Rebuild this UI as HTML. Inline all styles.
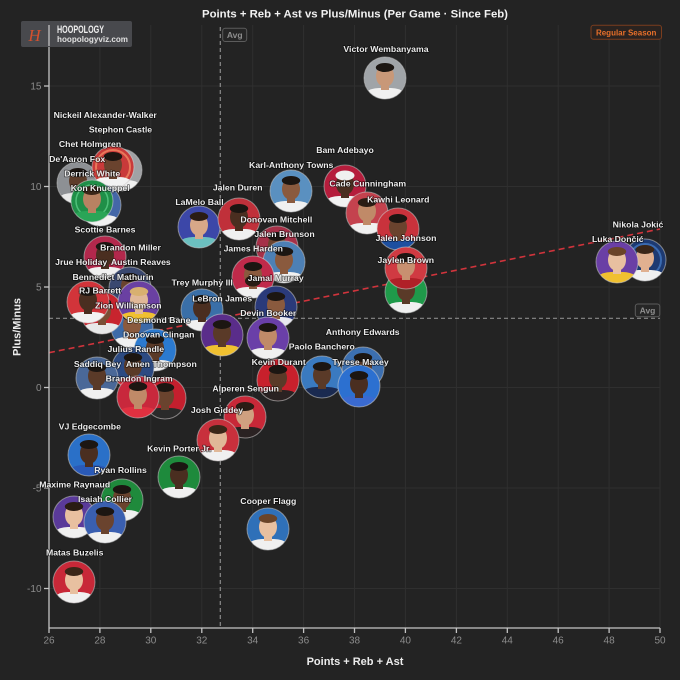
<!DOCTYPE html>
<html><head><meta charset="utf-8"><style>
html,body{margin:0;padding:0;background:#232323;}
svg{display:block;}
.lb{font-family:"Liberation Sans",sans-serif;font-weight:bold;font-size:8.7px;fill:#ececec;text-anchor:middle;paint-order:stroke;stroke:rgba(0,0,0,0.55);stroke-width:1.6px;stroke-linejoin:round;}
.tk{font-family:"Liberation Sans",sans-serif;font-size:10px;fill:#8c8c8c;}
</style></head><body>
<svg width="680" height="680" viewBox="0 0 680 680" xmlns="http://www.w3.org/2000/svg">
<defs><clipPath id="c"><circle r="21"/></clipPath></defs>
<rect width="680" height="680" fill="#232323"/>
<!-- grid -->
<g stroke="#2f2f2f" stroke-width="1">
<line x1="99.9" y1="25" x2="99.9" y2="628"/><line x1="150.8" y1="25" x2="150.8" y2="628"/><line x1="201.8" y1="25" x2="201.8" y2="628"/><line x1="252.7" y1="25" x2="252.7" y2="628"/><line x1="303.6" y1="25" x2="303.6" y2="628"/><line x1="354.5" y1="25" x2="354.5" y2="628"/><line x1="405.4" y1="25" x2="405.4" y2="628"/><line x1="456.4" y1="25" x2="456.4" y2="628"/><line x1="507.3" y1="25" x2="507.3" y2="628"/><line x1="558.2" y1="25" x2="558.2" y2="628"/><line x1="609.1" y1="25" x2="609.1" y2="628"/><line x1="660" y1="25" x2="660" y2="628"/>
<line x1="49" y1="86" x2="660" y2="86"/><line x1="49" y1="186.5" x2="660" y2="186.5"/><line x1="49" y1="287" x2="660" y2="287"/><line x1="49" y1="387.5" x2="660" y2="387.5"/><line x1="49" y1="488" x2="660" y2="488"/><line x1="49" y1="588.5" x2="660" y2="588.5"/>
</g>
<!-- avg lines -->
<line x1="220.3" y1="27" x2="220.3" y2="628" stroke="#8a8a8a" stroke-width="1.2" stroke-dasharray="4,3"/>
<line x1="49" y1="318.3" x2="660" y2="318.3" stroke="#8a8a8a" stroke-width="1.2" stroke-dasharray="4,3"/>
<!-- trend -->
<line x1="49" y1="352.7" x2="660" y2="229" stroke="#d0343c" stroke-width="1.6" stroke-dasharray="6,4"/>
<!-- axes -->
<g stroke="#c4c4c4" stroke-width="1.3">
<line x1="49" y1="26" x2="49" y2="628"/><line x1="49" y1="628" x2="660" y2="628"/>
<line x1="44" y1="86" x2="49" y2="86"/><line x1="44" y1="186.5" x2="49" y2="186.5"/><line x1="44" y1="287" x2="49" y2="287"/><line x1="44" y1="387.5" x2="49" y2="387.5"/><line x1="44" y1="488" x2="49" y2="488"/><line x1="44" y1="588.5" x2="49" y2="588.5"/>
<line x1="49" y1="628" x2="49" y2="633"/><line x1="99.9" y1="628" x2="99.9" y2="633"/><line x1="150.8" y1="628" x2="150.8" y2="633"/><line x1="201.8" y1="628" x2="201.8" y2="633"/><line x1="252.7" y1="628" x2="252.7" y2="633"/><line x1="303.6" y1="628" x2="303.6" y2="633"/><line x1="354.5" y1="628" x2="354.5" y2="633"/><line x1="405.4" y1="628" x2="405.4" y2="633"/><line x1="456.4" y1="628" x2="456.4" y2="633"/><line x1="507.3" y1="628" x2="507.3" y2="633"/><line x1="558.2" y1="628" x2="558.2" y2="633"/><line x1="609.1" y1="628" x2="609.1" y2="633"/><line x1="660" y1="628" x2="660" y2="633"/>
</g>
<g class="tk" text-anchor="middle">
<text x="49" y="643.5">26</text><text x="99.9" y="643.5">28</text><text x="150.8" y="643.5">30</text><text x="201.8" y="643.5">32</text><text x="252.7" y="643.5">34</text><text x="303.6" y="643.5">36</text><text x="354.5" y="643.5">38</text><text x="405.4" y="643.5">40</text><text x="456.4" y="643.5">42</text><text x="507.3" y="643.5">44</text><text x="558.2" y="643.5">46</text><text x="609.1" y="643.5">48</text><text x="660" y="643.5">50</text>
</g>
<g class="tk" text-anchor="end">
<text x="41.5" y="89.5">15</text><text x="41.5" y="190">10</text><text x="41.5" y="290.5">5</text><text x="41.5" y="391">0</text><text x="41.5" y="491.5">-5</text><text x="41.5" y="592">-10</text>
</g>
<text x="355" y="665" font-family="Liberation Sans, sans-serif" font-weight="bold" font-size="11" fill="#ececec" text-anchor="middle">Points + Reb + Ast</text>
<text transform="translate(20.5 327) rotate(-90)" font-family="Liberation Sans, sans-serif" font-weight="bold" font-size="11" fill="#ececec" text-anchor="middle">Plus/Minus</text>
<text x="355" y="17.3" font-family="Liberation Sans, sans-serif" font-weight="bold" font-size="11.35" fill="#f2f2f2" text-anchor="middle">Points + Reb + Ast vs Plus/Minus (Per Game · Since Feb)</text>

<!-- players -->
<g transform="translate(78 183)"><g clip-path="url(#c)"><circle r="21" fill="#8d9094"/><path d="M-22 22V16Q-15 10-6 10H6Q15 10 22 16V22Z" fill="#e8e8e8"/><rect x="-4" y="4" width="8" height="8" fill="#5e3d2a"/><ellipse cy="-2" rx="9" ry="11" fill="#5e3d2a"/><ellipse cy="-10.5" rx="9.2" ry="4.5" fill="#1c1612"/></g><circle r="21" fill="none" stroke="#d0d0d0" stroke-opacity=".55"/></g>
<g transform="translate(121 170)"><g clip-path="url(#c)"><circle r="21" fill="#a0a2a5"/><path d="M-22 22V16Q-15 10-6 10H6Q15 10 22 16V22Z" fill="#f0f0f0"/><rect x="-4" y="4" width="8" height="8" fill="#7a4e35"/><ellipse cy="-2" rx="9" ry="11" fill="#7a4e35"/><ellipse cy="-10.5" rx="9.2" ry="4.5" fill="#1c1612"/></g><circle r="21" fill="none" stroke="#d0d0d0" stroke-opacity=".55"/></g>
<g transform="translate(113 167)"><g clip-path="url(#c)"><circle r="21" fill="#c93a3a"/><circle r="17" fill="none" stroke="#e8785a" stroke-width="2"/><path d="M-22 22V16Q-15 10-6 10H6Q15 10 22 16V22Z" fill="#f2f2f2"/><rect x="-4" y="4" width="8" height="8" fill="#6a432e"/><ellipse cy="-2" rx="9" ry="11" fill="#6a432e"/><ellipse cy="-10.5" rx="9.2" ry="4.5" fill="#1c1612"/></g><circle r="21" fill="none" stroke="#d0d0d0" stroke-opacity=".55"/></g>
<g transform="translate(100 205)"><g clip-path="url(#c)"><circle r="21" fill="#4467a8"/><path d="M-22 22V16Q-15 10-6 10H6Q15 10 22 16V22Z" fill="#f0f0f0"/><rect x="-4" y="4" width="8" height="8" fill="#d8a888"/><ellipse cy="-2" rx="9" ry="11" fill="#d8a888"/><ellipse cy="-10.5" rx="9.2" ry="4.5" fill="#4a3020"/></g><circle r="21" fill="none" stroke="#d0d0d0" stroke-opacity=".55"/></g>
<g transform="translate(92 201)"><g clip-path="url(#c)"><circle r="21" fill="#1f8f48"/><circle r="16" fill="none" stroke="#4fc07a" stroke-width="1.5"/><path d="M-22 22V16Q-15 10-6 10H6Q15 10 22 16V22Z" fill="#2aa557"/><rect x="-4" y="4" width="8" height="8" fill="#b88262"/><ellipse cy="-2" rx="9" ry="11" fill="#b88262"/><ellipse cy="-10.5" rx="9.2" ry="4.5" fill="#3a2618"/></g><circle r="21" fill="none" stroke="#d0d0d0" stroke-opacity=".55"/></g>

<g transform="translate(105 257)"><g clip-path="url(#c)"><circle r="21" fill="#b3284c"/><path d="M-22 22V16Q-15 10-6 10H6Q15 10 22 16V22Z" fill="#f0f0f0"/><rect x="-4" y="4" width="8" height="8" fill="#4a2e20"/><ellipse cy="-2" rx="9" ry="11" fill="#4a2e20"/><ellipse cy="-10.5" rx="9.2" ry="4.5" fill="#1c1612"/></g><circle r="21" fill="none" stroke="#d0d0d0" stroke-opacity=".55"/></g>
<g transform="translate(130 288)"><g clip-path="url(#c)"><circle r="21" fill="#3a4870"/><path d="M-22 22V16Q-15 10-6 10H6Q15 10 22 16V22Z" fill="#e8c040"/><rect x="-4" y="4" width="8" height="8" fill="#6a432e"/><ellipse cy="-2" rx="9" ry="11" fill="#6a432e"/><ellipse cy="-10.5" rx="9.2" ry="4.5" fill="#1c1612"/></g><circle r="21" fill="none" stroke="#d0d0d0" stroke-opacity=".55"/></g>
<g transform="translate(132 327)"><g clip-path="url(#c)"><circle r="21" fill="#3c6aa8"/><path d="M-22 22V16Q-15 10-6 10H6Q15 10 22 16V22Z" fill="#f0f0f0"/><rect x="-4" y="4" width="8" height="8" fill="#8a5a3e"/><ellipse cy="-2" rx="9" ry="11" fill="#8a5a3e"/><ellipse cy="-10.5" rx="9.2" ry="4.5" fill="#1c1612"/></g><circle r="21" fill="none" stroke="#d0d0d0" stroke-opacity=".55"/></g>
<g transform="translate(102 313)"><g clip-path="url(#c)"><circle r="21" fill="#c8242e"/><path d="M-22 22V16Q-15 10-6 10H6Q15 10 22 16V22Z" fill="#e8e8e8"/><rect x="-4" y="4" width="8" height="8" fill="#7a4e35"/><ellipse cy="-2" rx="9" ry="11" fill="#7a4e35"/><ellipse cy="-10.5" rx="9.2" ry="4.5" fill="#1c1612"/></g><circle r="21" fill="none" stroke="#d0d0d0" stroke-opacity=".55"/></g>
<g transform="translate(88 302)"><g clip-path="url(#c)"><circle r="21" fill="#d2343a"/><path d="M-22 22V16Q-15 10-6 10H6Q15 10 22 16V22Z" fill="#f2f2f2"/><rect x="-4" y="4" width="8" height="8" fill="#4a2e20"/><ellipse cy="-2" rx="9" ry="11" fill="#4a2e20"/><ellipse cy="-10.5" rx="9.2" ry="4.5" fill="#1c1612"/></g><circle r="21" fill="none" stroke="#d0d0d0" stroke-opacity=".55"/></g>
<g transform="translate(139 302)"><g clip-path="url(#c)"><circle r="21" fill="#6a40a2"/><path d="M-22 22V16Q-15 10-6 10H6Q15 10 22 16V22Z" fill="#f0c030"/><rect x="-4" y="4" width="8" height="8" fill="#e0b898"/><ellipse cy="-2" rx="9" ry="11" fill="#e0b898"/><ellipse cy="-10.5" rx="9.2" ry="4.5" fill="#d8b070"/></g><circle r="21" fill="none" stroke="#d0d0d0" stroke-opacity=".55"/></g>
<g transform="translate(155 350)"><g clip-path="url(#c)"><circle r="21" fill="#2b7ad0"/><path d="M-22 22V16Q-15 10-6 10H6Q15 10 22 16V22Z" fill="#f0f0f0"/><rect x="-4" y="4" width="8" height="8" fill="#5a3a28"/><ellipse cy="-2" rx="9" ry="11" fill="#5a3a28"/><ellipse cy="-10.5" rx="9.2" ry="4.5" fill="#1c1612"/></g><circle r="21" fill="none" stroke="#d0d0d0" stroke-opacity=".55"/></g>
<g transform="translate(133 368)"><g clip-path="url(#c)"><circle r="21" fill="#2c4a82"/><path d="M-22 22V16Q-15 10-6 10H6Q15 10 22 16V22Z" fill="#d8303a"/><rect x="-4" y="4" width="8" height="8" fill="#5a3a28"/><ellipse cy="-2" rx="9" ry="11" fill="#5a3a28"/><ellipse cy="-10.5" rx="9.2" ry="4.5" fill="#1c1612"/></g><circle r="21" fill="none" stroke="#d0d0d0" stroke-opacity=".55"/></g>
<g transform="translate(97 378)"><g clip-path="url(#c)"><circle r="21" fill="#4a6898"/><path d="M-22 22V16Q-15 10-6 10H6Q15 10 22 16V22Z" fill="#f0f0f0"/><rect x="-4" y="4" width="8" height="8" fill="#5a3a28"/><ellipse cy="-2" rx="9" ry="11" fill="#5a3a28"/><ellipse cy="-10.5" rx="9.2" ry="4.5" fill="#1c1612"/></g><circle r="21" fill="none" stroke="#d0d0d0" stroke-opacity=".55"/></g>
<g transform="translate(165 398)"><g clip-path="url(#c)"><circle r="21" fill="#c41f2e"/><path d="M-22 22V16Q-15 10-6 10H6Q15 10 22 16V22Z" fill="#2a2a2a"/><rect x="-4" y="4" width="8" height="8" fill="#6a432e"/><ellipse cy="-2" rx="9" ry="11" fill="#6a432e"/><ellipse cy="-10.5" rx="9.2" ry="4.5" fill="#1c1612"/></g><circle r="21" fill="none" stroke="#d0d0d0" stroke-opacity=".55"/></g>
<g transform="translate(138 397)"><g clip-path="url(#c)"><circle r="21" fill="#c8283c"/><path d="M-22 22V16Q-15 10-6 10H6Q15 10 22 16V22Z" fill="#e03040"/><rect x="-4" y="4" width="8" height="8" fill="#c08a68"/><ellipse cy="-2" rx="9" ry="11" fill="#c08a68"/><ellipse cy="-10.5" rx="9.2" ry="4.5" fill="#1c1612"/></g><circle r="21" fill="none" stroke="#d0d0d0" stroke-opacity=".55"/></g>

<g transform="translate(199 227)"><g clip-path="url(#c)"><circle r="21" fill="#3c47a8"/><path d="M-22 22V16Q-15 10-6 10H6Q15 10 22 16V22Z" fill="#6cc0c0"/><rect x="-4" y="4" width="8" height="8" fill="#d8a888"/><ellipse cy="-2" rx="9" ry="11" fill="#d8a888"/><ellipse cy="-10.5" rx="9.2" ry="4.5" fill="#2a1c14"/></g><circle r="21" fill="none" stroke="#d0d0d0" stroke-opacity=".55"/></g>
<g transform="translate(239 219)"><g clip-path="url(#c)"><circle r="21" fill="#c0303a"/><path d="M-22 22V16Q-15 10-6 10H6Q15 10 22 16V22Z" fill="#f0f0f0"/><rect x="-4" y="4" width="8" height="8" fill="#4a2e20"/><ellipse cy="-2" rx="9" ry="11" fill="#4a2e20"/><ellipse cy="-10.5" rx="9.2" ry="4.5" fill="#1c1612"/></g><circle r="21" fill="none" stroke="#d0d0d0" stroke-opacity=".55"/></g>
<g transform="translate(291 191)"><g clip-path="url(#c)"><circle r="21" fill="#5a90c0"/><path d="M-22 22V16Q-15 10-6 10H6Q15 10 22 16V22Z" fill="#f0f0f0"/><rect x="-4" y="4" width="8" height="8" fill="#8a5a3e"/><ellipse cy="-2" rx="9" ry="11" fill="#8a5a3e"/><ellipse cy="-10.5" rx="9.2" ry="4.5" fill="#1c1612"/></g><circle r="21" fill="none" stroke="#d0d0d0" stroke-opacity=".55"/></g>
<g transform="translate(345 186)"><g clip-path="url(#c)"><circle r="21" fill="#b51d3c"/><path d="M-22 22V16Q-15 10-6 10H6Q15 10 22 16V22Z" fill="#f2f2f2"/><rect x="-4" y="4" width="8" height="8" fill="#4a2e20"/><ellipse cy="-2" rx="9" ry="11" fill="#4a2e20"/><ellipse cy="-10.5" rx="9.5" ry="5" fill="#f0f0f0"/></g><circle r="21" fill="none" stroke="#d0d0d0" stroke-opacity=".55"/></g>
<g transform="translate(367 213)"><g clip-path="url(#c)"><circle r="21" fill="#c4424e"/><path d="M-22 22V16Q-15 10-6 10H6Q15 10 22 16V22Z" fill="#f0f0f0"/><rect x="-4" y="4" width="8" height="8" fill="#c08a68"/><ellipse cy="-2" rx="9" ry="11" fill="#c08a68"/><ellipse cy="-10.5" rx="9.2" ry="4.5" fill="#2a1c14"/></g><circle r="21" fill="none" stroke="#d0d0d0" stroke-opacity=".55"/></g>
<g transform="translate(398 229)"><g clip-path="url(#c)"><circle r="21" fill="#c9323c"/><path d="M-22 22V16Q-15 10-6 10H6Q15 10 22 16V22Z" fill="#1d4fa0"/><rect x="-4" y="4" width="8" height="8" fill="#6a432e"/><ellipse cy="-2" rx="9" ry="11" fill="#6a432e"/><ellipse cy="-10.5" rx="9.2" ry="4.5" fill="#1c1612"/></g><circle r="21" fill="none" stroke="#d0d0d0" stroke-opacity=".55"/></g>
<g transform="translate(406 292)"><g clip-path="url(#c)"><circle r="21" fill="#1f9a4a"/><path d="M-22 22V16Q-15 10-6 10H6Q15 10 22 16V22Z" fill="#f0f0f0"/><rect x="-4" y="4" width="8" height="8" fill="#5a3a28"/><ellipse cy="-2" rx="9" ry="11" fill="#5a3a28"/><ellipse cy="-10.5" rx="9.2" ry="4.5" fill="#1c1612"/></g><circle r="21" fill="none" stroke="#d0d0d0" stroke-opacity=".55"/></g>
<g transform="translate(406 268)"><g clip-path="url(#c)"><circle r="21" fill="#d03a42"/><path d="M-22 22V16Q-15 10-6 10H6Q15 10 22 16V22Z" fill="#b02028"/><rect x="-4" y="4" width="8" height="8" fill="#c89070"/><ellipse cy="-2" rx="9" ry="11" fill="#c89070"/><ellipse cy="-10.5" rx="9.2" ry="4.5" fill="#1c1612"/></g><circle r="21" fill="none" stroke="#d0d0d0" stroke-opacity=".55"/></g>
<g transform="translate(277 247)"><g clip-path="url(#c)"><circle r="21" fill="#a63048"/><path d="M-22 22V16Q-15 10-6 10H6Q15 10 22 16V22Z" fill="#f0f0f0"/><rect x="-4" y="4" width="8" height="8" fill="#6a432e"/><ellipse cy="-2" rx="9" ry="11" fill="#6a432e"/><ellipse cy="-10.5" rx="9.2" ry="4.5" fill="#1c1612"/></g><circle r="21" fill="none" stroke="#d0d0d0" stroke-opacity=".55"/></g>
<g transform="translate(284 262)"><g clip-path="url(#c)"><circle r="21" fill="#4d80b5"/><path d="M-22 22V16Q-15 10-6 10H6Q15 10 22 16V22Z" fill="#f0f0f0"/><rect x="-4" y="4" width="8" height="8" fill="#8a5a3e"/><ellipse cy="-2" rx="9" ry="11" fill="#8a5a3e"/><ellipse cy="-10.5" rx="9.2" ry="4.5" fill="#1c1612"/></g><circle r="21" fill="none" stroke="#d0d0d0" stroke-opacity=".55"/></g>
<g transform="translate(253 277)"><g clip-path="url(#c)"><circle r="21" fill="#c02a4a"/><path d="M-22 22V16Q-15 10-6 10H6Q15 10 22 16V22Z" fill="#f0f0f0"/><rect x="-4" y="4" width="8" height="8" fill="#8a5a3e"/><ellipse cy="-2" rx="9" ry="11" fill="#8a5a3e"/><ellipse cy="4" rx="8" ry="5.5" fill="#2a1c14"/><ellipse cy="-10.5" rx="9.2" ry="4.5" fill="#1c1612"/></g><circle r="21" fill="none" stroke="#d0d0d0" stroke-opacity=".55"/></g>
<g transform="translate(202 310)"><g clip-path="url(#c)"><circle r="21" fill="#3a6fa8"/><path d="M-22 22V16Q-15 10-6 10H6Q15 10 22 16V22Z" fill="#f0f0f0"/><rect x="-4" y="4" width="8" height="8" fill="#4a2e20"/><ellipse cy="-2" rx="9" ry="11" fill="#4a2e20"/><ellipse cy="-10.5" rx="9.2" ry="4.5" fill="#1c1612"/></g><circle r="21" fill="none" stroke="#d0d0d0" stroke-opacity=".55"/></g>
<g transform="translate(276 307)"><g clip-path="url(#c)"><circle r="21" fill="#2a3a7a"/><path d="M-22 22V16Q-15 10-6 10H6Q15 10 22 16V22Z" fill="#e8e8f0"/><rect x="-4" y="4" width="8" height="8" fill="#8a5a3e"/><ellipse cy="-2" rx="9" ry="11" fill="#8a5a3e"/><ellipse cy="-10.5" rx="9.2" ry="4.5" fill="#1c1612"/></g><circle r="21" fill="none" stroke="#d0d0d0" stroke-opacity=".55"/></g>
<g transform="translate(268 338)"><g clip-path="url(#c)"><circle r="21" fill="#6a3fa8"/><path d="M-22 22V16Q-15 10-6 10H6Q15 10 22 16V22Z" fill="#f0f0f0"/><rect x="-4" y="4" width="8" height="8" fill="#c08a68"/><ellipse cy="-2" rx="9" ry="11" fill="#c08a68"/><ellipse cy="-10.5" rx="9.2" ry="4.5" fill="#1c1612"/></g><circle r="21" fill="none" stroke="#d0d0d0" stroke-opacity=".55"/></g>
<g transform="translate(222 335)"><g clip-path="url(#c)"><circle r="21" fill="#5a2d8a"/><path d="M-22 22V16Q-15 10-6 10H6Q15 10 22 16V22Z" fill="#f0c030"/><rect x="-4" y="4" width="8" height="8" fill="#5a3a28"/><ellipse cy="-2" rx="9" ry="11" fill="#5a3a28"/><ellipse cy="-10.5" rx="9.2" ry="4.5" fill="#1c1612"/></g><circle r="21" fill="none" stroke="#d0d0d0" stroke-opacity=".55"/></g>
<g transform="translate(363 368)"><g clip-path="url(#c)"><circle r="21" fill="#3c6fb0"/><path d="M-22 22V16Q-15 10-6 10H6Q15 10 22 16V22Z" fill="#f0f0f0"/><rect x="-4" y="4" width="8" height="8" fill="#5a3a28"/><ellipse cy="-2" rx="9" ry="11" fill="#5a3a28"/><ellipse cy="-10.5" rx="9.2" ry="4.5" fill="#1c1612"/></g><circle r="21" fill="none" stroke="#d0d0d0" stroke-opacity=".55"/></g>
<g transform="translate(322 377)"><g clip-path="url(#c)"><circle r="21" fill="#3a7ac0"/><path d="M-22 22V16Q-15 10-6 10H6Q15 10 22 16V22Z" fill="#1a2a50"/><rect x="-4" y="4" width="8" height="8" fill="#5a3a28"/><ellipse cy="-2" rx="9" ry="11" fill="#5a3a28"/><ellipse cy="-10.5" rx="9.2" ry="4.5" fill="#1c1612"/></g><circle r="21" fill="none" stroke="#d0d0d0" stroke-opacity=".55"/></g>
<g transform="translate(278 380)"><g clip-path="url(#c)"><circle r="21" fill="#c8202c"/><path d="M-22 22V16Q-15 10-6 10H6Q15 10 22 16V22Z" fill="#2a2222"/><rect x="-4" y="4" width="8" height="8" fill="#5a3a28"/><ellipse cy="-2" rx="9" ry="11" fill="#5a3a28"/><ellipse cy="-10.5" rx="9.2" ry="4.5" fill="#1c1612"/></g><circle r="21" fill="none" stroke="#d0d0d0" stroke-opacity=".55"/></g>
<g transform="translate(359 386)"><g clip-path="url(#c)"><circle r="21" fill="#2c70d0"/><path d="M-22 22V16Q-15 10-6 10H6Q15 10 22 16V22Z" fill="#3a6ad0"/><rect x="-4" y="4" width="8" height="8" fill="#4a2e20"/><ellipse cy="-2" rx="9" ry="11" fill="#4a2e20"/><ellipse cy="-10.5" rx="9.2" ry="4.5" fill="#1c1612"/></g><circle r="21" fill="none" stroke="#d0d0d0" stroke-opacity=".55"/></g>
<g transform="translate(245 417)"><g clip-path="url(#c)"><circle r="21" fill="#c82838"/><path d="M-22 22V16Q-15 10-6 10H6Q15 10 22 16V22Z" fill="#2a2222"/><rect x="-4" y="4" width="8" height="8" fill="#d0a080"/><ellipse cy="-2" rx="9" ry="11" fill="#d0a080"/><ellipse cy="-10.5" rx="9.2" ry="4.5" fill="#2a1c14"/></g><circle r="21" fill="none" stroke="#d0d0d0" stroke-opacity=".55"/></g>
<g transform="translate(218 440)"><g clip-path="url(#c)"><circle r="21" fill="#c8303c"/><path d="M-22 22V16Q-15 10-6 10H6Q15 10 22 16V22Z" fill="#f0f0f0"/><rect x="-4" y="4" width="8" height="8" fill="#e0b898"/><ellipse cy="-2" rx="9" ry="11" fill="#e0b898"/><ellipse cy="-10.5" rx="9.2" ry="4.5" fill="#3a2618"/></g><circle r="21" fill="none" stroke="#d0d0d0" stroke-opacity=".55"/></g>
<g transform="translate(179 477)"><g clip-path="url(#c)"><circle r="21" fill="#1e8a3c"/><path d="M-22 22V16Q-15 10-6 10H6Q15 10 22 16V22Z" fill="#f0f0f0"/><rect x="-4" y="4" width="8" height="8" fill="#4a2e20"/><ellipse cy="-2" rx="9" ry="11" fill="#4a2e20"/><ellipse cy="-10.5" rx="9.2" ry="4.5" fill="#1c1612"/></g><circle r="21" fill="none" stroke="#d0d0d0" stroke-opacity=".55"/></g>
<g transform="translate(268 529)"><g clip-path="url(#c)"><circle r="21" fill="#2f70b8"/><path d="M-22 22V16Q-15 10-6 10H6Q15 10 22 16V22Z" fill="#f0f0f0"/><rect x="-4" y="4" width="8" height="8" fill="#e8c0a0"/><ellipse cy="-2" rx="9" ry="11" fill="#e8c0a0"/><ellipse cy="-10.5" rx="9.2" ry="4.5" fill="#6a4428"/></g><circle r="21" fill="none" stroke="#d0d0d0" stroke-opacity=".55"/></g>
<g transform="translate(89 455)"><g clip-path="url(#c)"><circle r="21" fill="#2a70c8"/><path d="M-22 22V16Q-15 10-6 10H6Q15 10 22 16V22Z" fill="#2a5ab8"/><rect x="-4" y="4" width="8" height="8" fill="#4a2e20"/><ellipse cy="-2" rx="9" ry="11" fill="#4a2e20"/><ellipse cy="-10.5" rx="9.2" ry="4.5" fill="#1c1612"/></g><circle r="21" fill="none" stroke="#d0d0d0" stroke-opacity=".55"/></g>
<g transform="translate(122 500)"><g clip-path="url(#c)"><circle r="21" fill="#1f8a3c"/><path d="M-22 22V16Q-15 10-6 10H6Q15 10 22 16V22Z" fill="#f0f0f0"/><rect x="-4" y="4" width="8" height="8" fill="#6a432e"/><ellipse cy="-2" rx="9" ry="11" fill="#6a432e"/><ellipse cy="-10.5" rx="9.2" ry="4.5" fill="#1c1612"/></g><circle r="21" fill="none" stroke="#d0d0d0" stroke-opacity=".55"/></g>
<g transform="translate(74 517)"><g clip-path="url(#c)"><circle r="21" fill="#5a3a9a"/><path d="M-22 22V16Q-15 10-6 10H6Q15 10 22 16V22Z" fill="#f0f0f0"/><rect x="-4" y="4" width="8" height="8" fill="#e8c0a0"/><ellipse cy="-2" rx="9" ry="11" fill="#e8c0a0"/><ellipse cy="-10.5" rx="9.2" ry="4.5" fill="#2a1c14"/></g><circle r="21" fill="none" stroke="#d0d0d0" stroke-opacity=".55"/></g>
<g transform="translate(105 522)"><g clip-path="url(#c)"><circle r="21" fill="#3a5fb0"/><path d="M-22 22V16Q-15 10-6 10H6Q15 10 22 16V22Z" fill="#f0f0f0"/><rect x="-4" y="4" width="8" height="8" fill="#6a432e"/><ellipse cy="-2" rx="9" ry="11" fill="#6a432e"/><ellipse cy="-10.5" rx="9.2" ry="4.5" fill="#1c1612"/></g><circle r="21" fill="none" stroke="#d0d0d0" stroke-opacity=".55"/></g>
<g transform="translate(74 582)"><g clip-path="url(#c)"><circle r="21" fill="#c82838"/><path d="M-22 22V16Q-15 10-6 10H6Q15 10 22 16V22Z" fill="#f0f0f0"/><rect x="-4" y="4" width="8" height="8" fill="#e8c0a0"/><ellipse cy="-2" rx="9" ry="11" fill="#e8c0a0"/><ellipse cy="-10.5" rx="9.2" ry="4.5" fill="#3a2618"/></g><circle r="21" fill="none" stroke="#d0d0d0" stroke-opacity=".55"/></g>
<g transform="translate(385 78)"><g clip-path="url(#c)"><circle r="21" fill="#a0a4a8"/><path d="M-22 22V16Q-15 10-6 10H6Q15 10 22 16V22Z" fill="#f0f0f0"/><rect x="-4" y="4" width="8" height="8" fill="#c89878"/><ellipse cy="-2" rx="9" ry="11" fill="#c89878"/><ellipse cy="-10.5" rx="9.2" ry="4.5" fill="#1c1612"/></g><circle r="21" fill="none" stroke="#d0d0d0" stroke-opacity=".55"/></g>
<g transform="translate(645 260)"><g clip-path="url(#c)"><circle r="21" fill="#1d3a72"/><circle r="16" fill="none" stroke="#3a6ab0" stroke-width="2"/><path d="M-22 22V16Q-15 10-6 10H6Q15 10 22 16V22Z" fill="#f0f0f0"/><rect x="-4" y="4" width="8" height="8" fill="#e0b090"/><ellipse cy="-2" rx="9" ry="11" fill="#e0b090"/><ellipse cy="-10.5" rx="9.2" ry="4.5" fill="#3a2618"/></g><circle r="21" fill="none" stroke="#d0d0d0" stroke-opacity=".55"/></g>
<g transform="translate(617 262)"><g clip-path="url(#c)"><circle r="21" fill="#6a3fa5"/><path d="M-22 22V16Q-15 10-6 10H6Q15 10 22 16V22Z" fill="#f0c030"/><rect x="-4" y="4" width="8" height="8" fill="#e8c0a0"/><ellipse cy="-2" rx="9" ry="11" fill="#e8c0a0"/><ellipse cy="-10.5" rx="9.2" ry="4.5" fill="#6a4428"/></g><circle r="21" fill="none" stroke="#d0d0d0" stroke-opacity=".55"/></g>

<!-- labels -->
<g class="lb">
<text x="105.2" y="117.8">Nickeil Alexander-Walker</text>
<text x="120.5" y="132.4">Stephon Castle</text>
<text x="90" y="147.1">Chet Holmgren</text>
<text x="77.2" y="161.8">De'Aaron Fox</text>
<text x="92.2" y="176.4">Derrick White</text>
<text x="100.2" y="191.1">Kon Knueppel</text>
<text x="105" y="232.4">Scottie Barnes</text>
<text x="130.5" y="250.4">Brandon Miller</text>
<text x="81.2" y="265.1">Jrue Holiday</text>
<text x="140.8" y="265.1">Austin Reaves</text>
<text x="113" y="279.8">Bennedict Mathurin</text>
<text x="100" y="293.4">RJ Barrett</text>
<text x="128.3" y="308.4">Zion Williamson</text>
<text x="158.8" y="323.1">Desmond Bane</text>
<text x="158.7" y="337.4">Donovan Clingan</text>
<text x="135.8" y="351.8">Julius Randle</text>
<text x="97.5" y="366.8">Saddiq Bey</text>
<text x="161.3" y="366.8">Amen Thompson</text>
<text x="139.2" y="381.4">Brandon Ingram</text>
<text x="89.8" y="429.4">VJ Edgecombe</text>
<text x="179.2" y="451.4">Kevin Porter Jr.</text>
<text x="120.5" y="472.8">Ryan Rollins</text>
<text x="74.7" y="487.4">Maxime Raynaud</text>
<text x="105" y="502.1">Isaiah Collier</text>
<text x="74.7" y="555.4">Matas Buzelis</text>
<text x="386" y="52.1">Victor Wembanyama</text>
<text x="345" y="153.1">Bam Adebayo</text>
<text x="291.2" y="167.8">Karl-Anthony Towns</text>
<text x="367.7" y="186.4">Cade Cunningham</text>
<text x="237.7" y="190.4">Jalen Duren</text>
<text x="398.3" y="202.4">Kawhi Leonard</text>
<text x="199.5" y="205.1">LaMelo Ball</text>
<text x="276.3" y="222.4">Donovan Mitchell</text>
<text x="284.5" y="237.1">Jalen Brunson</text>
<text x="406" y="240.8">Jalen Johnson</text>
<text x="253.3" y="251.4">James Harden</text>
<text x="405.8" y="262.8">Jaylen Brown</text>
<text x="275.7" y="280.8">Jamal Murray</text>
<text x="202.2" y="285.4">Trey Murphy III</text>
<text x="222.2" y="301.4">LeBron James</text>
<text x="268.3" y="315.8">Devin Booker</text>
<text x="362.7" y="334.8">Anthony Edwards</text>
<text x="321.8" y="349.4">Paolo Banchero</text>
<text x="278.7" y="364.8">Kevin Durant</text>
<text x="360.5" y="364.8">Tyrese Maxey</text>
<text x="245.7" y="391.4">Alperen Sengun</text>
<text x="217" y="413.1">Josh Giddey</text>
<text x="268.3" y="503.8">Cooper Flagg</text>
<text x="638" y="227.4">Nikola Jokić</text>
<text x="617.8" y="242.1">Luka Dončić</text>
</g>

<!-- avg badges -->
<rect x="222.7" y="28.3" width="24" height="13.2" rx="2.5" fill="#262626" stroke="#5c5c5c" stroke-width="1"/>
<text x="234.7" y="38" font-family="Liberation Sans, sans-serif" font-weight="bold" font-size="8.5" fill="#8e8e8e" text-anchor="middle">Avg</text>
<rect x="635.3" y="304" width="24.5" height="12.8" rx="2.5" fill="#262626" stroke="#5c5c5c" stroke-width="1"/>
<text x="647.5" y="313.5" font-family="Liberation Sans, sans-serif" font-weight="bold" font-size="8.5" fill="#8e8e8e" text-anchor="middle">Avg</text>
<!-- regular season -->
<rect x="591" y="25.3" width="70.5" height="14" rx="2.5" fill="#2a2320" stroke="#7a3d1e" stroke-width="1"/>
<text x="626.2" y="35.3" font-family="Liberation Sans, sans-serif" font-weight="bold" font-size="8" fill="#e8702a" text-anchor="middle">Regular Season</text>
<!-- logo -->
<rect x="21" y="21" width="111" height="26" rx="2" fill="#48494d"/>
<text x="34.5" y="41" font-family="Liberation Serif, serif" font-style="italic" font-size="17" fill="#d4502e" text-anchor="middle">H</text>
<line x1="49" y1="25" x2="49" y2="46" stroke="#c4c4c4" stroke-width="1.3"/>
<text x="57" y="33" font-family="Liberation Sans, sans-serif" font-weight="bold" font-size="11" fill="#f0f0f0" textLength="47" lengthAdjust="spacingAndGlyphs">HOOPOLOGY</text>
<text x="57" y="41.8" font-family="Liberation Sans, sans-serif" font-weight="bold" font-size="8.2" fill="#e0e0e0" textLength="71" lengthAdjust="spacingAndGlyphs">hoopologyviz.com</text>
</svg>
</body></html>
